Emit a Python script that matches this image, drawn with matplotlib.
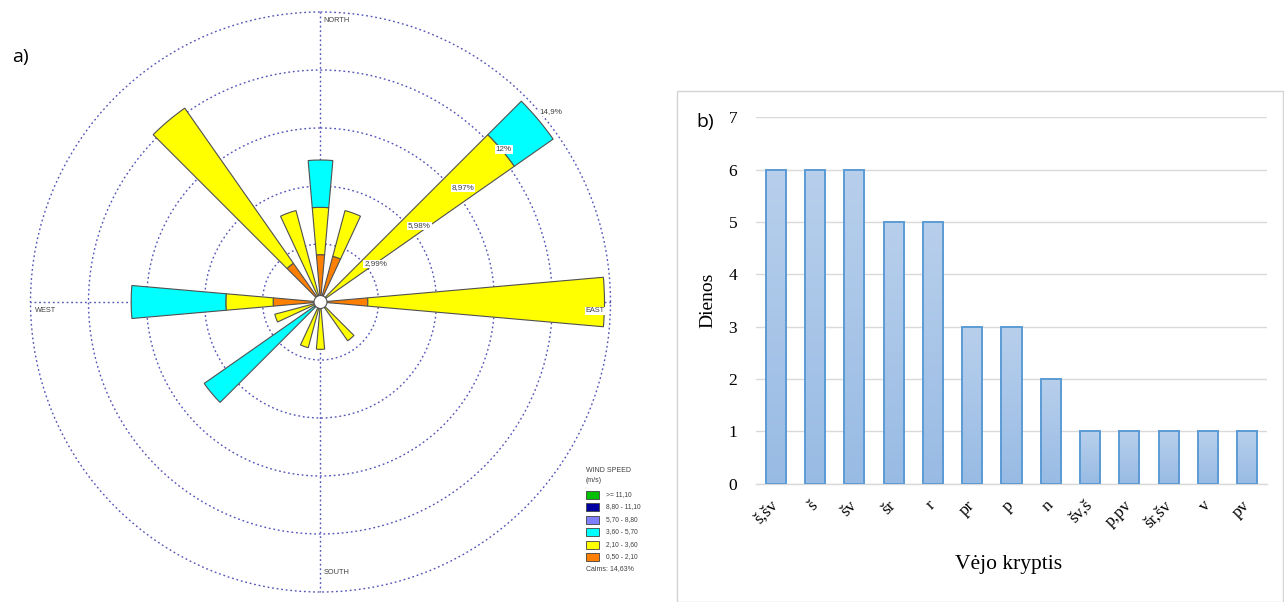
import numpy as np
import matplotlib
matplotlib.use('Agg')
import matplotlib.pyplot as plt
from matplotlib.patches import Rectangle, Circle
from matplotlib.colors import LinearSegmentedColormap

# ---------------- Panel a: wind rose data (percent of time) ----------------
directions_deg = [0, 20, 50, 90, 140, 180, 200, 230, 250, 270, 320, 340]
freq_050_210 = [2.44, 2.44, 0.00, 2.44, 0.00, 0.00, 0.00, 0.00, 0.00, 2.44, 2.44, 0.00]
freq_210_360 = [2.44, 2.44, 12.20, 12.20, 2.44, 2.44, 2.44, 0.00, 2.44, 2.44, 9.76, 4.88]
freq_360_570 = [2.44, 0.00, 2.44, 0.00, 0.00, 0.00, 0.00, 7.32, 0.00, 4.88, 0.00, 0.00]
speed_bins = ['>= 11,10', '8,80 - 11,10', '5,70 - 8,80', '3,60 - 5,70', '2,10 - 3,60', '0,50 - 2,10']
bin_colors = ['#00c000', '#0000a0', '#8080ff', '#00ffff', '#ffff00', '#ff8000']
ring_values = [2.99, 5.98, 8.97, 11.96, 14.95]
ring_labels = ['2,99%', '5,98%', '8,97%', '12%', '14,9%']
axis_directions = [0, 90, 180, 270]
calms_text = 'Calms: 14,63%'

# ---------------- Panel b: bar chart data ----------------
categories = ['š,šv', 'š', 'šv', 'šr', 'r', 'pr', 'p', 'n', 'šv,š', 'p,pv', 'šr,šv', 'v', 'pv']
days = [6, 6, 6, 5, 5, 3, 3, 2, 1, 1, 1, 1, 1]

W, H = 1284, 602
fig = plt.figure(figsize=(W / 100, H / 100), dpi=100)


def fx(x):
    return x / W


def fy(y):
    return 1 - y / H


# ======== Wind rose ========
cx, cy, R = 320.5, 302, 290
pad_f = 1.02
Ra = R * pad_f
grid_style = dict(color='#5555b8', linestyle=(0, (1.3, 2.0)), linewidth=1.0)
ax = fig.add_axes([fx(cx - Ra), fy(cy + Ra), 2 * Ra / W, 2 * Ra / H], projection='polar')
ax.set_theta_zero_location('N')
ax.set_theta_direction(-1)
ax.set_ylim(0, ring_values[-1] * pad_f)
ax.set_yticks(ring_values)
ax.set_yticklabels([])
ax.set_xticks([])
ax.spines['polar'].set_visible(False)
ax.yaxis.grid(True, **grid_style)
ax.xaxis.grid(False)
ax.set_axisbelow(True)
ax.tick_params(length=0)
for d in axis_directions:
    ax.plot([np.radians(d)] * 2, [0, ring_values[-1]], zorder=1, **grid_style)

theta = np.radians(directions_deg)
width = np.radians(10)
bottom = np.zeros(len(directions_deg))
for vals, col in [(freq_050_210, '#ff8000'), (freq_210_360, '#ffff00'), (freq_360_570, '#00ffff')]:
    v = np.array(vals)
    m = v > 0
    ax.bar(theta[m], v[m], width=width, bottom=bottom[m], color=col,
           edgecolor='#505050', linewidth=0.8, zorder=3)
    bottom = bottom + v

ax.add_patch(Circle((0.5, 0.5), 6.5 / (2 * Ra), transform=ax.transAxes,
                    facecolor='white', edgecolor='#505050', linewidth=0.8, zorder=5))

for rv, lab in zip(ring_values, ring_labels):
    ax.text(np.radians(49), rv, lab, ha='left', va='center', fontsize=5.8,
            color='#404040', family='Liberation Sans', zorder=6,
            bbox=dict(facecolor='white', edgecolor='none', pad=0.6))

compass_kw = dict(fontsize=5.3, color='#404040', family='Liberation Sans', va='center', ha='left')
fig.text(fx(323.5), fy(20), 'NORTH', **compass_kw)
fig.text(fx(35), fy(310), 'WEST', **compass_kw)
fig.text(fx(323.5), fy(573), 'SOUTH', **compass_kw)
fig.text(fx(585.5), fy(311), 'EAST', bbox=dict(facecolor='white', edgecolor='none', pad=0.5),
         **compass_kw)

# Legend
leg_kw = dict(fontsize=5.0, color='#404040', family='Liberation Sans', va='center', ha='left')
fig.text(fx(586), fy(470.5), 'WIND SPEED', **leg_kw)
fig.text(fx(586), fy(480.5), '(m/s)', **leg_kw)
for i, (lab, col) in enumerate(zip(speed_bins, bin_colors)):
    yc = 494.5 + i * 12.5
    fig.patches.append(Rectangle((fx(586), fy(yc + 4)), 13 / W, 8 / H, transform=fig.transFigure,
                                 facecolor=col, edgecolor='#404040', linewidth=0.6))
    fig.text(fx(606.5), fy(yc), lab, fontsize=4.8, color='#404040', family='Liberation Sans',
             va='center', ha='left')
fig.text(fx(586), fy(568.5), calms_text, **leg_kw)

fig.text(fx(12), fy(57), 'a)', fontsize=14, family='Open Sans', va='center', ha='left')

# ======== Bar chart ========
fig.patches.append(Rectangle((fx(676.5), fy(601.5)), (1283 - 676.5) / W, (601.5 - 90.5) / H,
                             transform=fig.transFigure, facecolor='none',
                             edgecolor='#d4d4d4', linewidth=1.0))

axb = fig.add_axes([fx(756), fy(483.5), (1267 - 756) / W, (483.5 - 117.3) / H])
x = np.arange(len(categories))
bars = axb.bar(x, days, width=0.51, facecolor='none', edgecolor='#5b9bd5', linewidth=1.4, zorder=4)
cmap = LinearSegmentedColormap.from_list('bg', ['#98bbe4', '#b8cfec'])
grad = np.linspace(0, 1, 64).reshape(-1, 1)
for b in bars:
    x0, w, h = b.get_x(), b.get_width(), b.get_height()
    im = axb.imshow(grad, extent=(x0, x0 + w, 0, h), origin='lower', aspect='auto',
                    cmap=cmap, zorder=3)
    im.set_clip_path(b)

axb.set_xlim(-0.5, len(categories) - 0.5)
axb.set_ylim(0, 7)
axb.set_yticks(range(8))
axb.grid(axis='y', color='#d9d9d9', linewidth=1.0, zorder=0)
axb.set_axisbelow(True)
for s in ['top', 'right', 'left']:
    axb.spines[s].set_visible(False)
axb.spines['bottom'].set_color('#d9d9d9')
axb.spines['bottom'].set_linewidth(1.0)
axb.tick_params(axis='both', length=0)
axb.tick_params(axis='y', pad=13.5)
axb.set_yticklabels([str(v) for v in range(8)], fontsize=12.5, family='Liberation Serif')
axb.set_xticks(x)
axb.set_xticklabels(categories, fontsize=12.5, family='Liberation Serif', rotation=45,
                    ha='right', va='center', rotation_mode='anchor')
axb.tick_params(axis='x', pad=14)

fig.text(fx(708), fy(300), 'Dienos', rotation=90, fontsize=14, family='Liberation Serif',
         ha='center', va='center')
fig.text(fx(1009), fy(564), 'Vėjo kryptis', fontsize=15.5, family='Liberation Serif',
         ha='center', va='center')
fig.text(fx(696), fy(122), 'b)', fontsize=14, family='Open Sans', va='center', ha='left')

fig.savefig('out.png', dpi=100)
